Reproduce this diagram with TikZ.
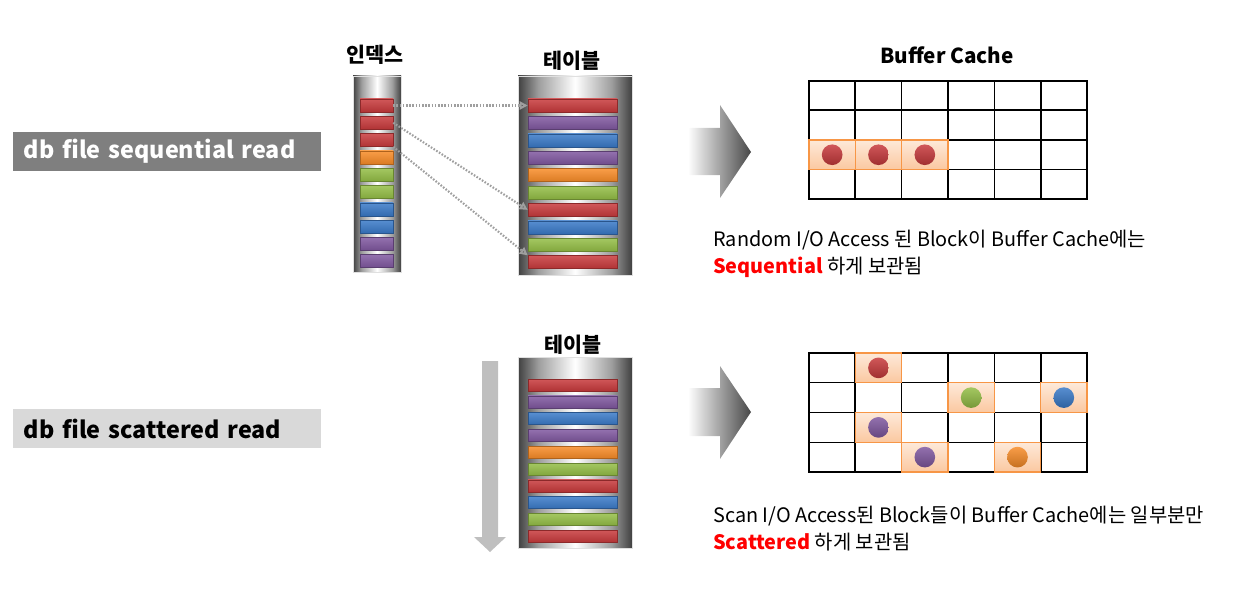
\documentclass[tikz,border=0pt]{standalone}
\usepackage{fontspec}
\setmainfont{Noto Sans CJK KR}
\usetikzlibrary{fit,calc,arrows.meta,positioning}

\definecolor{bred}{RGB}{200,58,60}
\definecolor{bpurple}{RGB}{128,88,160}
\definecolor{bblue}{RGB}{58,122,200}
\definecolor{borange}{RGB}{248,140,40}
\definecolor{bgreen}{RGB}{148,190,70}
\definecolor{corange}{RGB}{247,150,70}
\definecolor{cpeach}{RGB}{251,200,160}
\definecolor{lbldark}{RGB}{127,127,127}
\definecolor{lbllight}{RGB}{217,217,217}
\definecolor{hired}{RGB}{255,0,0}

\pgfdeclarehorizontalshading{cylinder}{100bp}{color(0bp)=(black!75); color(25bp)=(black!75); color(34bp)=(black!38); color(50bp)=(white); color(66bp)=(black!38); color(75bp)=(black!75); color(100bp)=(black!75)}

\begin{document}
\begin{tikzpicture}[x=0.75pt,y=-0.75pt,
  tbar/.style={inner sep=0pt, draw=#1!70!black, top color=#1!85!white, bottom color=#1!88!black},
  colbox/.style={inner sep=0pt, draw=black!12, shade, shading=cylinder},
  hlcell/.style={inner sep=0pt, draw=corange, line width=0.8pt, top color=cpeach!40, bottom color=cpeach},
  dot/.style={circle, inner sep=0pt, minimum size=15.5pt, top color=#1!85!white, bottom color=#1!80!black},
  title/.style={font=\fontsize{15.5}{18}\selectfont\bfseries},
  lblbox/.style={anchor=west, minimum height=29.25pt, text width=215pt, inner xsep=8pt, font=\fontsize{17.5}{20}\selectfont\bfseries},
  note/.style={anchor=west, inner sep=0pt, align=left, font=\fontsize{14.9}{20.25}\selectfont},
  conn/.style={gray!75, line width=1.6pt, dash pattern=on 1.2pt off 1.2pt, -{Triangle[open, length=6pt, width=6pt]}},
  bigarrow/.style={left color=white, right color=black!72}]
\useasboundingbox (0,0) rectangle (1258,592);

% labels on the left
\node[lblbox, fill=lbldark, text=white] (seqlbl) at (13,151.5) {db file sequential read};
\node[lblbox, fill=lbllight] (scatlbl) at (13,428.5) {db file scattered read};

% index and table (top)
\node[colbox, fit={(353,76) (401,272)}] (idxcol) {};
\node[colbox, fit={(518,76) (632,275)}] (tblcol) {};
\node[title] (idxttl) at (375,55) {인덱스};
\node[title] (tblttl) at (572,61) {테이블};
\foreach \cc [count=\i] in {bred,bred,bred,borange,bgreen,bgreen,bblue,bblue,bpurple,bpurple}
  \node[tbar=\cc, fit={(360,{99+(\i-1)*17.3}) (393,{112+(\i-1)*17.3})}] (ib\i) {};
\foreach \cc [count=\i] in {bred,bpurple,bblue,bpurple,borange,bgreen,bred,bblue,bgreen,bred}
  \node[tbar=\cc, fit={(528,{99+(\i-1)*17.4}) (617,{112+(\i-1)*17.4})}] (tb\i) {};

\draw[conn] (ib1.east) -- (tb1.west);
\draw[conn] (ib2.east) -- (tb7.west);
\draw[conn] (ib3.south east) -- (tb10.north west);

% table (bottom)
\node[colbox, fit={(518,357) (632,548)}] (tblcolb) {};
\node[title] (tblttlb) at (573,345) {테이블};
\foreach \cc [count=\i] in {bred,bpurple,bblue,bpurple,borange,bgreen,bred,bblue,bgreen,bred}
  \node[tbar=\cc, fit={(528,{379+(\i-1)*16.8}) (617,{391+(\i-1)*16.8})}] (tbb\i) {};
\fill[gray!50] (482,361) -- (498,361) -- (498,537) -- (506,537) -- (490,552) -- (474,537) -- (482,537) -- cycle;

% arrows to the cache
\shade[bigarrow] (688,128) -- (720,128) -- (720,105) -- (751,152) -- (720,198) -- (720,175) -- (688,175) -- cycle;
\shade[bigarrow] (688,388) -- (720,388) -- (720,366) -- (751,412) -- (720,459) -- (720,436) -- (688,436) -- cycle;

% buffer cache (top)
\node[title] (bcttl) at (947,55) {Buffer Cache};
\node[inner sep=0pt, draw, line width=1pt, fit={(809,81) (1087,199)}] (cacheA) {};
\foreach \k in {1,...,5}
  \draw[line width=1pt] ($(cacheA.north west)!\k/6!(cacheA.north east)$) -- ($(cacheA.south west)!\k/6!(cacheA.south east)$);
\foreach \k in {1,2,3}
  \draw[line width=1pt] ($(cacheA.north west)!\k/4!(cacheA.south west)$) -- ($(cacheA.north east)!\k/4!(cacheA.south east)$);
\foreach \c/\r/\cc [count=\n] in {1/3/bred, 2/3/bred, 3/3/bred}{
  \node[hlcell, fit={({809+(\c-1)*46.33},{81+(\r-1)*29.5}) ({809+\c*46.33},{81+\r*29.5})}] (hla\n) {};
  \node[dot=\cc] (balla\n) at (hla\n) {};
}

% buffer cache (bottom)
\node[inner sep=0pt, draw, line width=1pt, fit={(809,353) (1087,472)}] (cacheB) {};
\foreach \k in {1,...,5}
  \draw[line width=1pt] ($(cacheB.north west)!\k/6!(cacheB.north east)$) -- ($(cacheB.south west)!\k/6!(cacheB.south east)$);
\foreach \k in {1,2,3}
  \draw[line width=1pt] ($(cacheB.north west)!\k/4!(cacheB.south west)$) -- ($(cacheB.north east)!\k/4!(cacheB.south east)$);
\foreach \c/\r/\cc [count=\n] in {2/1/bred, 4/2/bgreen, 6/2/bblue, 2/3/bpurple, 3/4/bpurple, 5/4/borange}{
  \node[hlcell, fit={({809+(\c-1)*46.33},{353+(\r-1)*29.75}) ({809+\c*46.33},{353+\r*29.75})}] (hlb\n) {};
  \node[dot=\cc] (ballb\n) at (hlb\n) {};
}

% notes
\node[note] (seqnote) at (713,254) {Random I/O Access 된 Block이 Buffer Cache에는\\{\bfseries\color{hired}Sequential} 하게 보관됨};
\node[note] (scatnote) at (713,529) {Scan I/O Access된 Block들이 Buffer Cache에는 일부분만\\{\bfseries\color{hired}Scattered} 하게 보관됨};
\end{tikzpicture}
\end{document}
